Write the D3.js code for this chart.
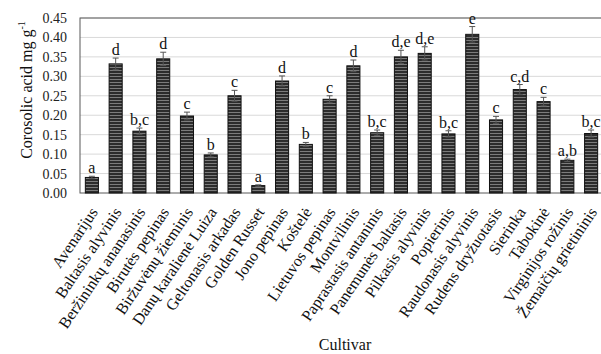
<!DOCTYPE html>
<html>
<head>
<meta charset="utf-8">
<script src="https://cdn.jsdelivr.net/npm/d3@7"></script>
<style>
  html, body { margin: 0; padding: 0; background: #fff; }
  svg { display: block; }
</style>
</head>
<body>
<div id="chart"></div>
<script>
// Corosolic acid content per apple cultivar (mg g-1), with SE and significance groups
const cultivars = [
  "Avenarijus", "Baltasis alyvinis", "Beržininkų ananasinis", "Birutės pepinas",
  "Biržuvėnų žieminis", "Danų karalienė Luiza", "Geltonasis arkadas", "Golden Russet",
  "Jono pepinas", "Koštelė", "Lietuvos pepinas", "Montvilinis",
  "Paprastasis antaninis", "Panemunės baltasis", "Pilkasis alyvinis", "Popierinis",
  "Raudonasis alyvinis", "Rudens dryžuotasis", "Sierinka", "Tabokinė",
  "Virginijos rožinis", "Žemaičių grietininis"
];
const values = [
  0.040, 0.332, 0.159, 0.345, 0.198, 0.098, 0.250, 0.019, 0.288, 0.125, 0.241,
  0.327, 0.155, 0.350, 0.359, 0.152, 0.408, 0.188, 0.266, 0.235, 0.084, 0.153
];
const errors = [
  0.003, 0.015, 0.008, 0.017, 0.010, 0.005, 0.014, 0.002, 0.013, 0.005, 0.009,
  0.015, 0.007, 0.017, 0.017, 0.008, 0.020, 0.009, 0.013, 0.011, 0.003, 0.009
];
const groups = [
  "a", "d", "b,c", "d", "c", "b", "c", "a", "d", "b", "c",
  "d", "b,c", "d,e", "d,e", "b,c", "e", "c", "c,d", "c", "a,b", "b,c"
];
const yTicks = [0, 0.05, 0.10, 0.15, 0.20, 0.25, 0.30, 0.35, 0.40, 0.45];

const FONT = "'Liberation Serif', 'Times New Roman', Times, 'DejaVu Serif', serif";
const W = 601, H = 354;
const margin = { left: 80, top: 18, bottom: 161 };
const plotW = 523, plotH = H - margin.top - margin.bottom;

const svg = d3.select("#chart").append("svg")
  .attr("width", W).attr("height", H)
  .attr("font-family", FONT);

// striped fill for the bars
const defs = svg.append("defs");
const pat = defs.append("pattern")
  .attr("id", "stripes").attr("patternUnits", "userSpaceOnUse")
  .attr("width", 6).attr("height", 3);
pat.append("rect").attr("width", 6).attr("height", 3).attr("fill", "#2c2c2c");
pat.append("rect").attr("width", 6).attr("height", 1).attr("y", 1).attr("fill", "#7c7c7c");

const x = d3.scaleBand().domain(cultivars)
  .range([margin.left, margin.left + plotW]).paddingInner(0.45).paddingOuter(0.225);
const y = d3.scaleLinear().domain([0, 0.45]).range([margin.top + plotH, margin.top]);

// gridlines
svg.append("g").selectAll("line").data(yTicks.slice(1)).join("line")
  .attr("x1", margin.left).attr("x2", margin.left + plotW)
  .attr("y1", d => y(d)).attr("y2", d => y(d))
  .attr("stroke", "#d9d9d9").attr("stroke-width", 1);

// plot frame
svg.append("rect")
  .attr("x", margin.left).attr("y", margin.top)
  .attr("width", plotW).attr("height", plotH)
  .attr("fill", "none").attr("stroke", "#595959").attr("stroke-width", 1);

// y axis labels
const yAxis = d3.axisLeft(y).tickValues(yTicks).tickFormat(d3.format(".2f")).tickSize(0).tickPadding(13);
const gy = svg.append("g").attr("transform", `translate(${margin.left},0)`).call(yAxis)
  .attr("font-family", FONT);
gy.select(".domain").remove();
gy.selectAll("text").attr("font-size", 14).attr("fill", "#222");

// bars
svg.append("g").selectAll("rect").data(cultivars).join("rect")
  .attr("x", d => x(d)).attr("width", x.bandwidth())
  .attr("y", (d, i) => y(values[i]))
  .attr("height", (d, i) => y(0) - y(values[i]))
  .attr("fill", "url(#stripes)").attr("stroke", "#111").attr("stroke-width", 1);

// error bars
const eb = svg.append("g").attr("stroke", "#555").attr("stroke-width", 1);
cultivars.forEach((c, i) => {
  const cx = x(c) + x.bandwidth() / 2;
  const y0 = y(values[i] - errors[i]), y1 = y(values[i] + errors[i]);
  eb.append("line").attr("x1", cx).attr("x2", cx).attr("y1", y0).attr("y2", y1);
  eb.append("line").attr("x1", cx - 3).attr("x2", cx + 3).attr("y1", y1).attr("y2", y1);
  eb.append("line").attr("x1", cx - 3).attr("x2", cx + 3).attr("y1", y0).attr("y2", y0);
});

// significance letters
svg.append("g").selectAll("text").data(cultivars).join("text")
  .attr("x", d => x(d) + x.bandwidth() / 2)
  .attr("y", (d, i) => y(values[i] + errors[i]) - 3)
  .attr("text-anchor", "middle").attr("font-size", 16).attr("fill", "#111")
  .text((d, i) => groups[i]);

// cultivar labels
svg.append("g").selectAll("text").data(cultivars).join("text")
  .attr("transform", d => `translate(${x(d) + x.bandwidth() / 2 + 2},${margin.top + plotH + 16}) rotate(-56)`)
  .attr("text-anchor", "end").attr("dy", "0.35em").attr("font-size", 16).attr("fill", "#111")
  .text(d => d);

// axis titles
const yt = svg.append("text")
  .attr("transform", `translate(32,${margin.top + 72}) rotate(-90)`)
  .attr("text-anchor", "middle").attr("font-size", 16).attr("fill", "#111");
yt.append("tspan").text("Corosolic acid mg g");
yt.append("tspan").attr("font-size", 10).attr("dy", -7).text("-1");

svg.append("text")
  .attr("x", 345).attr("y", 350)
  .attr("text-anchor", "middle").attr("font-size", 16).attr("fill", "#111")
  .text("Cultivar");

svg.selectAll("text").style("font-family", FONT);
</script>
</body>
</html>
